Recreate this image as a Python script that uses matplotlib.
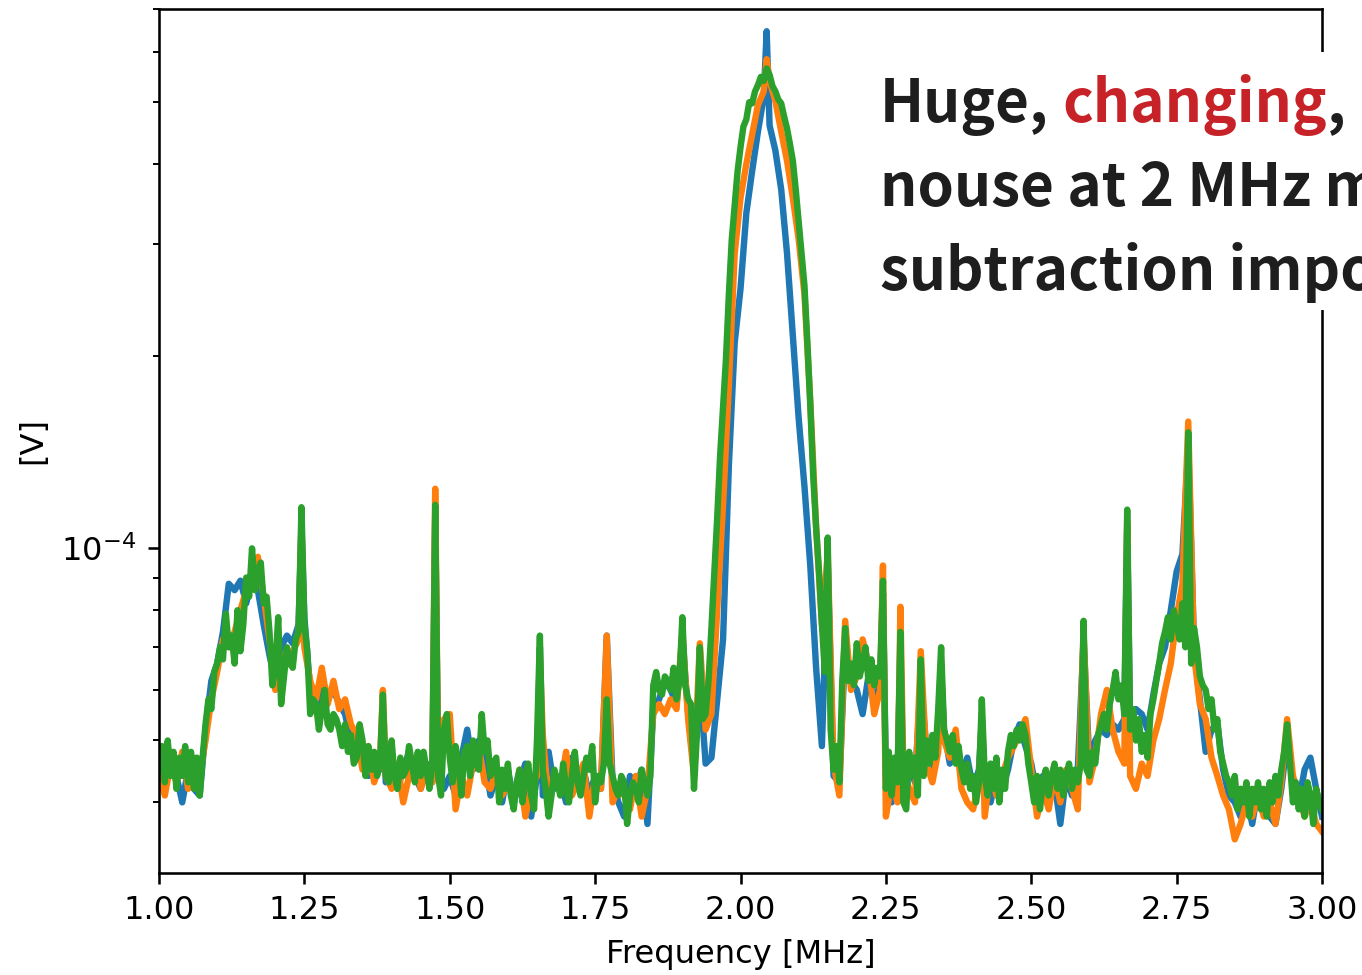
import numpy as np
import matplotlib
matplotlib.use('Agg')
import matplotlib.pyplot as plt
from matplotlib.patches import Rectangle

# ---- data (amplitude in microvolts) ----
# green trace, 0.005 MHz steps from 1.000 to 3.000
green_uv = [
    45, 49, 43, 50, 44, 48, 42, 47, 44, 49,
    43, 48, 42, 47, 41, 47, 53, 58, 56, 64,
    66, 70, 67, 79, 70, 73, 66, 80, 69, 76,
    90, 84, 100, 86, 92, 95, 82, 84, 74, 61,
    65, 78, 57, 63, 70, 66, 65, 72, 74, 116,
    76, 69, 55, 58, 57, 52, 56, 60, 53, 52,
    55, 54, 52, 49, 53, 48, 51, 46, 47, 53,
    50, 44, 49, 45, 48, 44, 46, 59, 44, 43,
    50, 44, 42, 47, 44, 45, 49, 46, 43, 48,
    44, 48, 45, 42, 46, 117, 44, 41, 52, 55,
    47, 43, 49, 46, 41, 48, 49, 44, 50, 46,
    45, 55, 48, 50, 44, 46, 47, 40, 45, 42,
    46, 41, 39, 43, 45, 40, 44, 46, 41, 39,
    50, 73, 45, 42, 38, 41, 45, 43, 41, 46,
    42, 40, 44, 48, 43, 41, 44, 47, 45, 49,
    40, 44, 43, 46, 58, 46, 44, 42, 41, 44,
    43, 37, 41, 43, 42, 40, 45, 43, 41, 44,
    61, 64, 60, 59, 63, 62, 60, 65, 58, 62,
    78, 61, 58, 57, 42, 51, 70, 54, 55, 62,
    75, 92, 112, 140, 166, 198, 250, 305, 345, 390,
    425, 458, 470, 500, 498, 520, 532, 548, 540, 565,
    552, 530, 520, 505, 498, 475, 455, 430, 405, 365,
    325, 290, 258, 210, 168, 130, 108, 92, 76, 64,
    104, 52, 45, 49, 43, 62, 75, 62, 66, 61,
    71, 63, 66, 70, 62, 67, 61, 65, 63, 89,
    42, 48, 41, 47, 43, 74, 40, 39, 48, 44,
    47, 41, 67, 44, 50, 46, 51, 47, 56, 70,
    52, 50, 48, 51, 46, 49, 45, 43, 46, 42,
    44, 40, 43, 58, 44, 41, 46, 42, 47, 40,
    45, 42, 48, 51, 49, 52, 50, 53, 51, 46,
    43, 40, 44, 39, 43, 45, 41, 44, 46, 42,
    45, 41, 44, 46, 42, 45, 43, 46, 77, 45,
    44, 48, 46, 51, 53, 55, 52, 57, 60, 64,
    58, 61, 55, 115, 52, 56, 50, 54, 48, 51,
    47, 55, 58, 62, 66, 71, 74, 78, 72, 80,
    76, 72, 82, 70, 152, 66, 75, 70, 63, 61,
    60, 56, 58, 52, 54, 48, 46, 44, 43, 41,
    44, 39, 42, 40, 43, 38, 42, 40, 43, 39,
    42, 38, 43, 40, 44, 41, 45, 48, 53, 46,
    40, 43, 39, 42, 38, 43, 41, 37, 42, 40,
    39,
]

# blue and orange traces, 0.01 MHz steps from 1.00 to 3.00
blue_uv = [
    46, 42, 48, 44, 40, 45, 42, 41, 52, 62,
    66, 74, 88, 86, 89, 82, 90, 86, 76, 68,
    62, 70, 73, 71, 76, 78, 60, 56, 63, 58,
    60, 57, 55, 50, 49, 46, 44, 47, 45, 43,
    46, 42, 45, 48, 44, 42, 46, 43, 45, 42,
    44, 41, 47, 52, 45, 50, 47, 41, 44, 40,
    45, 40, 43, 46, 38, 44, 41, 48, 42, 44,
    40, 47, 43, 45, 41, 44, 42, 46, 43, 40,
    38, 44, 42, 45, 37, 56, 58, 62, 60, 57,
    61, 55, 45, 44, 46, 47, 58, 72, 135, 210,
    255, 335, 390, 450, 510, 460, 420, 365, 290, 215,
    160, 125, 94, 65, 49, 45, 44, 43, 58, 62,
    60, 55, 63, 58, 61, 44, 40, 44, 41, 46,
    43, 42, 48, 45, 50, 52, 46, 49, 44, 47,
    42, 45, 43, 40, 44, 42, 45, 50, 53, 49,
    46, 41, 44, 40, 43, 37, 44, 41, 45, 43,
    46, 50, 52, 51, 53, 52, 54, 53, 56, 55,
    52, 59, 66, 70, 80, 92, 98, 80, 70, 58,
    48, 52, 53, 45, 41, 40, 38, 41, 37, 42,
    40, 38, 37, 42, 48, 43, 40, 45, 47, 42,
    38,
]

orange_uv = [
    44, 41, 46, 43, 48, 42, 47, 44, 50, 58,
    64, 72, 70, 74, 80, 86, 92, 97, 84, 72,
    60, 68, 66, 69, 72, 70, 62, 58, 65, 57,
    62, 56, 58, 53, 51, 45, 49, 43, 46, 44,
    42, 46, 40, 44, 47, 42, 45, 43, 46, 54,
    55, 39, 44, 41, 46, 49, 43, 42, 45, 41,
    43, 40, 45, 38, 42, 44, 51, 40, 44, 42,
    48, 41, 43, 46, 38, 44, 42, 47, 40, 42,
    41, 39, 44, 38, 42, 55, 57, 55, 58, 56,
    59, 54, 44, 46, 52, 55, 80, 117, 180, 290,
    354, 400, 445, 495, 520, 540, 502, 450, 405, 354,
    305, 250, 170, 108, 76, 58, 46, 41, 64, 60,
    63, 72, 66, 55, 60, 38, 43, 40, 45, 42,
    40, 44, 46, 43, 48, 50, 47, 52, 42, 40,
    39, 43, 38, 45, 41, 44, 47, 49, 51, 54,
    45, 38, 42, 39, 44, 40, 45, 42, 39, 44,
    43, 47, 55, 60, 52, 48, 46, 44, 42, 46,
    44, 50, 54, 60, 66, 78, 88, 82, 68, 57,
    54, 47, 44, 41, 39, 35, 37, 40, 38, 41,
    38, 40, 37, 43, 54, 44, 41, 38, 40, 37,
    36,
]

# narrow interference lines seen in the blue / orange traces
spike_mhz = [1.245, 1.385, 1.475, 1.655, 1.77, 1.90, 1.93, 2.045, 2.15, 2.18,
             2.245, 2.275, 2.31, 2.345, 2.415, 2.59, 2.665, 2.77, 2.94]
blue_spike_uv = [108, 55, 112, 70, 73, 72, 62, 646, 95, 70,
                 85, 70, 62, 64, 54, 72, 108, 145, 50]
orange_spike_uv = [110, 60, 124, 68, 73, 74, 71, 584, 98, 77,
                   94, 81, 69, 66, 54, 74, 110, 158, 54]

freq_fine = np.round(np.linspace(1.0, 3.0, len(green_uv)), 3)
freq_coarse = np.round(np.linspace(1.0, 3.0, len(blue_uv)), 3)


def with_spikes(f, v, sf, sv):
    """merge spike points into a trace (spike replaces a grid point at same freq)"""
    f = np.asarray(f)
    v = np.asarray(v, dtype=float)
    sf = np.round(np.asarray(sf), 3)
    keep = ~np.isin(f, sf)
    ff = np.concatenate([f[keep], sf])
    vv = np.concatenate([v[keep], np.asarray(sv, dtype=float)])
    order = np.argsort(ff)
    return ff[order], vv[order]


fb, vb = with_spikes(freq_coarse, blue_uv, spike_mhz, blue_spike_uv)
fo, vo = with_spikes(freq_coarse, orange_uv, spike_mhz, orange_spike_uv)

DPI = 231
fig = plt.figure(figsize=(1362 / DPI, 975 / DPI), dpi=DPI)
ax = fig.add_axes([159 / 1362, 1 - 873 / 975, (1322 - 159) / 1362, (873 - 9) / 975])

ax.plot(fb, vb * 1e-6, color='#1f77b4', lw=2)
ax.plot(fo, vo * 1e-6, color='#ff7f0e', lw=2)
ax.plot(freq_fine, np.array(green_uv) * 1e-6, color='#2ca02c', lw=2)

ax.set_yscale('log')
ax.set_xlim(1.0, 3.0)
ax.set_ylim(3.1e-5, 7.0e-4)
ax.set_xlabel('Frequency [MHz]')
ax.set_ylabel('[V]')

# white box behind the annotation (hides part of the right spine)
fig.add_artist(Rectangle((868 / 1362, 1 - 310 / 975), 0.4, (310 - 52) / 975,
                         transform=fig.transFigure, facecolor='white',
                         edgecolor='none', zorder=5))

dark = '#1e1e1e'
red = '#c62228'
kw = dict(fontsize=18.2, fontweight='bold', family=['Noto Sans CJK JP', 'DejaVu Sans'],
          va='baseline', ha='left', zorder=6)

x0 = 880
baselines = [122, 206, 290]

renderer = fig.canvas.get_renderer()


def text_w(s):
    t = fig.text(0, 0, s, **kw)
    w = t.get_window_extent(renderer).width
    t.remove()
    return w


d1 = text_w('Huge, c') - text_w('c')
d2 = text_w('Huge, changing,') - text_w(',')

y1 = 1 - baselines[0] / 975
fig.text(x0 / 1362, y1, 'Huge,', color=dark, **kw)
fig.text((x0 + d1) / 1362, y1, 'changing', color=red, **kw)
fig.text((x0 + d2) / 1362, y1, ',', color=dark, **kw)
fig.text(x0 / 1362, 1 - baselines[1] / 975, 'nouse at 2 MHz makes', color=dark, **kw)
fig.text(x0 / 1362, 1 - baselines[2] / 975, 'subtraction impossible', color=dark, **kw)

fig.savefig('out.png', dpi=DPI)
